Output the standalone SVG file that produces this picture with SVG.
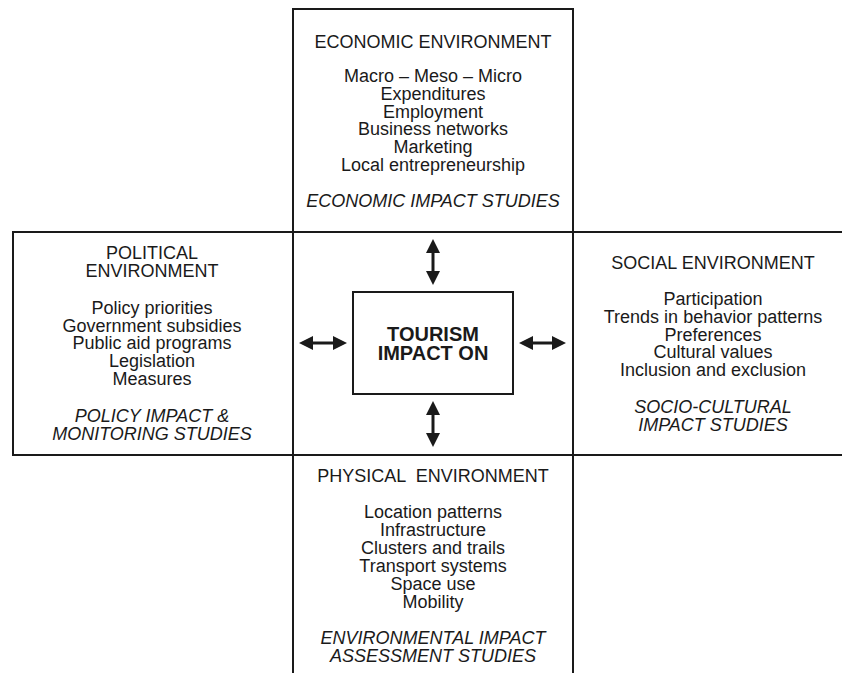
<svg xmlns="http://www.w3.org/2000/svg" width="842" height="673" viewBox="0 0 842 673">
<defs>
<style>
text{font-family:"Liberation Sans",Arial,sans-serif;font-size:18px;fill:#1a1a1a;text-anchor:middle}
.it{font-style:italic}
.b{font-weight:bold;font-size:20px}
.frame{fill:none;stroke:#1a1a1a;stroke-width:2}
.arr{stroke:#1a1a1a;stroke-width:3;fill:none;marker-start:url(#ah);marker-end:url(#ah)}
</style>
<marker id="ah" viewBox="0 0 14 14" refX="4" refY="7" markerWidth="14" markerHeight="14" markerUnits="userSpaceOnUse" orient="auto-start-reverse">
<path d="M0,0 L14,7 L0,14 z" fill="#1a1a1a"/>
</marker>
</defs>
<rect width="842" height="673" fill="#fff"/>
<g id="frame" class="frame">
<path d="M293,673 V9 H573 V673"/>
<path d="M842,232 H13 V455 H842"/>
</g>
<g id="economic">
<text x="433" y="48">ECONOMIC ENVIRONMENT</text>
<text x="433" y="82">Macro – Meso – Micro</text>
<text x="433" y="99.8">Expenditures</text>
<text x="433" y="117.6">Employment</text>
<text x="433" y="135.4">Business networks</text>
<text x="433" y="153.2">Marketing</text>
<text x="433" y="171">Local entrepreneurship</text>
<text x="433" y="206.7" class="it">ECONOMIC IMPACT STUDIES</text>
</g>
<g id="political">
<text x="152" y="259.3">POLITICAL</text>
<text x="152" y="277.3">ENVIRONMENT</text>
<text x="152" y="314">Policy priorities</text>
<text x="152" y="331.7">Government subsidies</text>
<text x="152" y="349.4">Public aid programs</text>
<text x="152" y="367.2">Legislation</text>
<text x="152" y="385">Measures</text>
<text x="152" y="421.7" class="it">POLICY IMPACT &amp;</text>
<text x="152" y="439.7" class="it">MONITORING STUDIES</text>
</g>
<g id="social">
<text x="713" y="269.3">SOCIAL ENVIRONMENT</text>
<text x="713" y="305">Participation</text>
<text x="713" y="322.8">Trends in behavior patterns</text>
<text x="713" y="340.6">Preferences</text>
<text x="713" y="358.4">Cultural values</text>
<text x="713" y="376.2">Inclusion and exclusion</text>
<text x="713" y="413.3" class="it">SOCIO-CULTURAL</text>
<text x="713" y="431.3" class="it">IMPACT STUDIES</text>
</g>
<g id="physical">
<text x="433" y="482.3" xml:space="preserve">PHYSICAL  ENVIRONMENT</text>
<text x="433" y="518.3">Location patterns</text>
<text x="433" y="536.3">Infrastructure</text>
<text x="433" y="554.3">Clusters and trails</text>
<text x="433" y="572.3">Transport systems</text>
<text x="433" y="590.3">Space use</text>
<text x="433" y="608.3">Mobility</text>
<text x="433" y="644.3" class="it">ENVIRONMENTAL IMPACT</text>
<text x="433" y="661.7" class="it">ASSESSMENT STUDIES</text>
</g>
<g id="tourism">
<rect x="353" y="292" width="160" height="102" class="frame"/>
<text x="433" y="341" class="b">TOURISM</text>
<text x="433" y="360" class="b">IMPACT ON</text>
</g>
<g id="connectors">
<line x1="433" y1="249" x2="433" y2="275" class="arr"/>
<line x1="433" y1="411" x2="433" y2="437" class="arr"/>
<line x1="309" y1="343" x2="337" y2="343" class="arr"/>
<line x1="529" y1="343" x2="556" y2="343" class="arr"/>
</g>
</svg>
